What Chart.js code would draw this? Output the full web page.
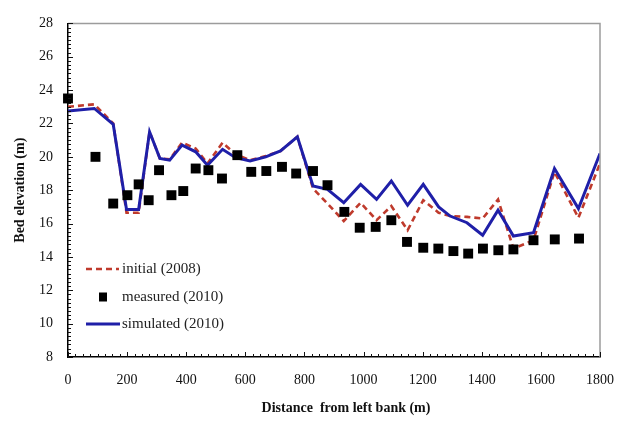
<!DOCTYPE html>
<html>
<head>
<meta charset="utf-8">
<script src="https://cdn.jsdelivr.net/npm/chart.js@4.4.0/dist/chart.umd.min.js"></script>
<style>
  html, body { margin: 0; padding: 0; background: #fff; }
  #wrap { width: 629px; height: 424px; position: relative; }
</style>
</head>
<body>
<div id="wrap"><canvas id="bedChart"></canvas></div>
<script>
// stations across the section (m from left bank)
const stations = [0, 89, 153, 198, 239, 276, 311, 344, 386, 432, 472, 523, 567, 616, 669, 719, 776, 829, 878, 933, 990, 1044, 1094, 1149, 1202, 1254, 1293, 1350, 1403, 1455, 1507, 1575, 1646, 1727, 1800];
const initial2008 = [23.0, 23.15, 22.0, 16.65, 16.65, 21.5, 19.9, 19.85, 20.85, 20.5, 19.6, 20.85, 20.15, 19.8, 20.05, 20.35, 21.2, 18.1, 17.2, 16.15, 17.25, 16.2, 17.05, 15.6, 17.4, 16.65, 16.45, 16.4, 16.3, 17.45, 14.5, 15.0, 19.1, 16.35, 19.6];
const simulated2010 = [22.75, 22.9, 21.95, 16.85, 16.85, 21.5, 19.9, 19.8, 20.7, 20.3, 19.5, 20.45, 19.95, 19.75, 20.0, 20.35, 21.2, 18.25, 18.05, 17.25, 18.35, 17.45, 18.55, 17.1, 18.35, 17.0, 16.45, 16.05, 15.3, 16.8, 15.25, 15.45, 19.3, 16.9, 20.2];

// measured points (2010)
const measuredX = [0, 93, 153, 201, 239, 273, 308, 350, 390, 432, 475, 521, 573, 620, 671, 724, 772, 829, 878, 935, 987, 1041, 1094, 1147, 1202, 1253, 1304, 1354, 1404, 1456, 1507, 1575, 1647, 1729];
const measured2010 = [23.5, 20.0, 17.2, 17.7, 18.35, 17.4, 19.2, 17.7, 17.95, 19.3, 19.2, 18.7, 20.1, 19.1, 19.15, 19.4, 19.0, 19.15, 18.3, 16.7, 15.75, 15.8, 16.2, 14.9, 14.55, 14.5, 14.35, 14.2, 14.5, 14.4, 14.45, 15.0, 15.05, 15.1];

const seriesLabels = ['initial (2008)', 'measured (2010)', 'simulated (2010)'];
const xTitle = 'Distance  from left bank (m)';
const yTitle = 'Bed elevation (m)';

const serif = '"Liberation Serif", "Times New Roman", serif';

const toPoints = (xs, ys) => xs.map((x, i) => ({ x: x, y: ys[i] }));

// frame, inward ticks, titles and the legend inside the plot
const decorations = {
  id: 'decorations',
  afterDraw(chart) {
    const ctx = chart.ctx;
    const area = chart.chartArea;
    const xs = chart.scales.x;
    const ys = chart.scales.y;
    ctx.save();

    // top + right frame (grey)
    ctx.strokeStyle = '#9c9c9c';
    ctx.lineWidth = 1.5;
    ctx.beginPath();
    ctx.moveTo(area.left, area.top);
    ctx.lineTo(area.right, area.top);
    ctx.lineTo(area.right, area.bottom);
    ctx.stroke();

    // ticks pointing inwards
    ctx.strokeStyle = '#111';
    ctx.lineWidth = 1;
    ctx.beginPath();
    for (let v = 0; v <= 1800; v += 25) {
      const px = Math.round(xs.getPixelForValue(v)) + 0.5;
      const len = v % 200 === 0 ? 5 : 3;
      ctx.moveTo(px, area.bottom);
      ctx.lineTo(px, area.bottom - len);
    }
    for (let v = 8; v <= 28.001; v += 0.25) {
      const py = Math.round(ys.getPixelForValue(v)) + 0.5;
      const len = Math.abs(v % 2) < 0.001 ? 5 : 3;
      ctx.moveTo(area.left, py);
      ctx.lineTo(area.left + len, py);
    }
    ctx.stroke();

    // axis titles
    ctx.fillStyle = '#111';
    ctx.font = 'bold 14px ' + serif;
    ctx.textAlign = 'center';
    ctx.textBaseline = 'middle';
    ctx.fillText(xTitle, 346, 408);
    ctx.save();
    ctx.translate(20, (area.top + area.bottom) / 2);
    ctx.rotate(-Math.PI / 2);
    ctx.fillText(yTitle, 0, 0);
    ctx.restore();

    // legend
    const rows = [269, 297, 324];
    const ds = chart.data.datasets;
    ctx.font = '15px ' + serif;
    ctx.textAlign = 'left';
    ctx.fillStyle = '#222';
    // initial
    ctx.strokeStyle = ds[0].borderColor;
    ctx.lineWidth = ds[0].borderWidth;
    ctx.setLineDash(ds[0].borderDash);
    ctx.beginPath();
    ctx.moveTo(86, rows[0]);
    ctx.lineTo(119, rows[0]);
    ctx.stroke();
    ctx.setLineDash([]);
    ctx.fillText(ds[0].label, 122, rows[0]);
    // measured
    ctx.fillStyle = '#000';
    ctx.fillRect(99, rows[1] - 4.5, 8, 9);
    ctx.fillStyle = '#222';
    ctx.fillText(ds[1].label, 122, rows[1]);
    // simulated
    ctx.strokeStyle = ds[2].borderColor;
    ctx.lineWidth = ds[2].borderWidth;
    ctx.beginPath();
    ctx.moveTo(86, rows[2]);
    ctx.lineTo(120, rows[2]);
    ctx.stroke();
    ctx.fillText(ds[2].label, 122, rows[2]);

    ctx.restore();
  }
};

new Chart(document.getElementById('bedChart'), {
  type: 'scatter',
  data: {
    datasets: [
      {
        label: seriesLabels[0],
        data: toPoints(stations, initial2008),
        showLine: true,
        borderColor: '#bf3a2c',
        borderWidth: 2.6,
        borderDash: [6, 4],
        pointRadius: 0,
        fill: false,
        tension: 0,
        order: 3
      },
      {
        label: seriesLabels[1],
        data: toPoints(measuredX, measured2010),
        showLine: false,
        pointStyle: 'rect',
        pointRadius: 7,
        backgroundColor: '#000',
        borderColor: '#000',
        borderWidth: 0,
        clip: false,
        order: 1
      },
      {
        label: seriesLabels[2],
        data: toPoints(stations, simulated2010),
        showLine: true,
        borderColor: '#1f1fa8',
        borderWidth: 3,
        pointRadius: 0,
        fill: false,
        tension: 0,
        order: 2
      }
    ]
  },
  options: {
    responsive: true,
    maintainAspectRatio: false,
    animation: false,
    devicePixelRatio: 1,
    layout: { padding: { top: 15, right: 29, left: 0, bottom: 0 } },
    plugins: {
      legend: { display: false },
      tooltip: { enabled: false }
    },
    scales: {
      x: {
        type: 'linear',
        min: 0,
        max: 1800,
        ticks: {
          stepSize: 200,
          padding: 15,
          color: '#111',
          font: { family: serif, size: 14 },
          maxRotation: 0,
          callback: value => String(value)
        },
        grid: { display: false, drawTicks: false },
        border: { display: true, color: '#000', width: 1.5 },
        afterFit: scale => { scale.height = 67; }
      },
      y: {
        min: 8,
        max: 28,
        ticks: {
          stepSize: 2,
          padding: 15,
          color: '#111',
          font: { family: serif, size: 14 },
          callback: value => String(value)
        },
        grid: { display: false, drawTicks: false },
        border: { display: true, color: '#000', width: 1.5 },
        afterFit: scale => { scale.width = 68; }
      }
    }
  },
  plugins: [decorations]
});
</script>
</body>
</html>
